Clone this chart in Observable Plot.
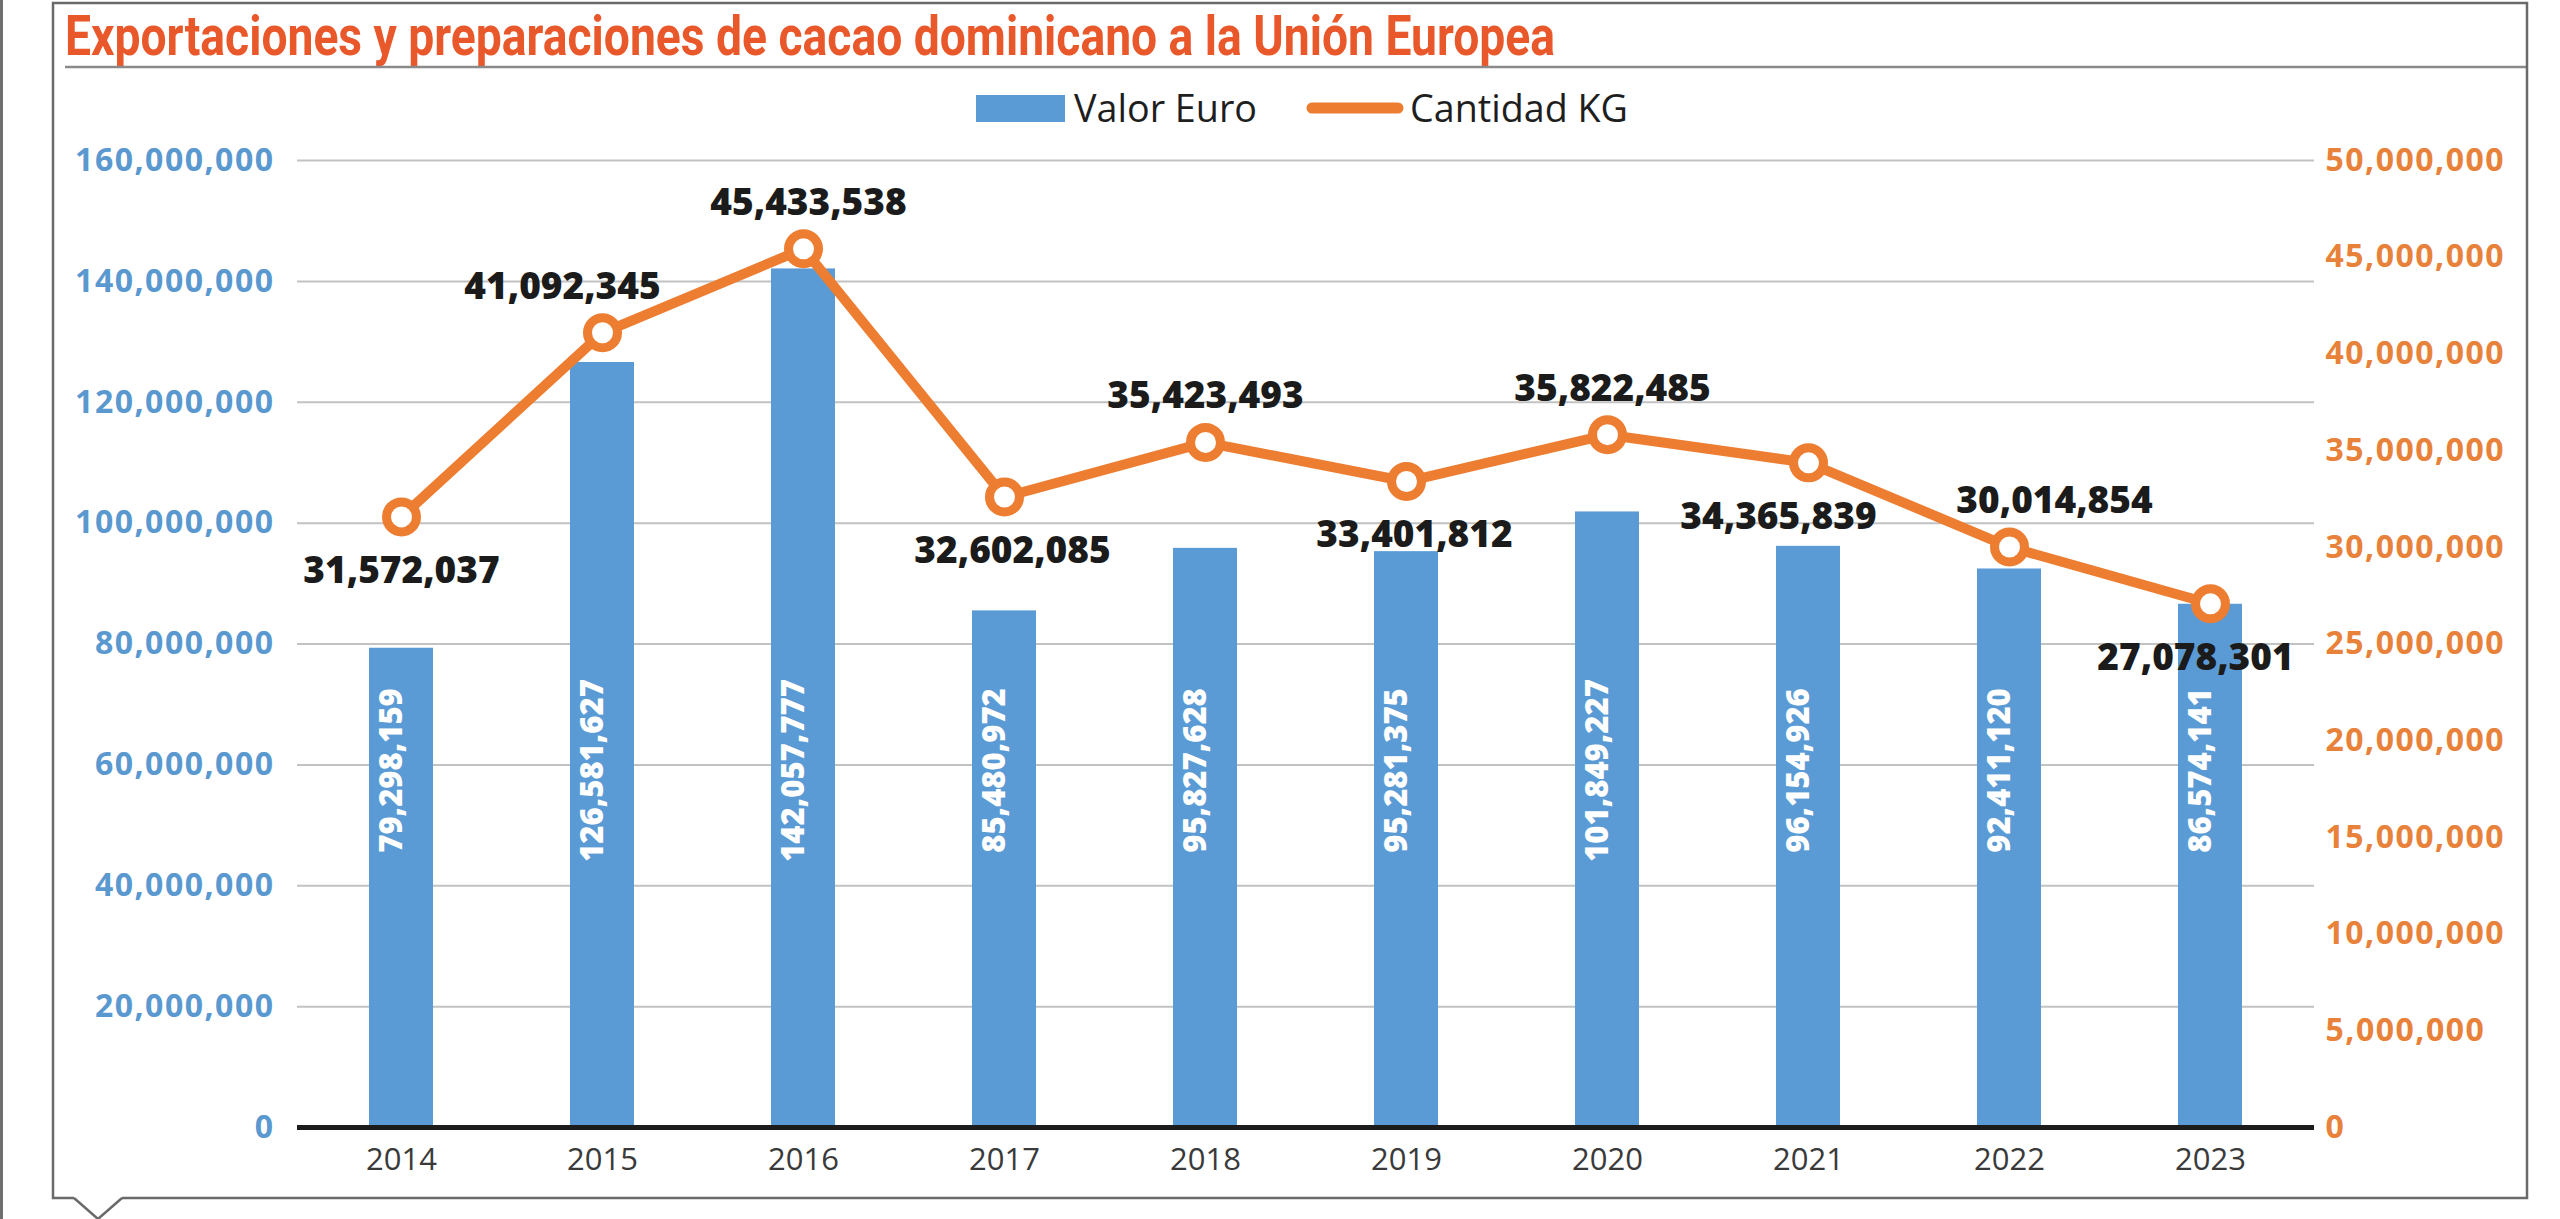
<!DOCTYPE html>
<html>
<head>
<meta charset="utf-8">
<script src="https://cdn.jsdelivr.net/npm/d3@7"></script>
<script src="https://cdn.jsdelivr.net/npm/@observablehq/plot@0.6"></script>
<style>
  html, body { margin: 0; padding: 0; background: #fff; overflow: hidden; }
  #page { position: relative; width: 2560px; height: 1219px; }
  #header { position: absolute; left: 0; top: 0; }
  #chart { position: absolute; left: 0; top: 140px; }
  #overlay { position: absolute; left: 0; top: 0; pointer-events: none; }
</style>
</head>
<body>
<div id="page">
  <svg id="header" width="2560" height="140"></svg>
  <div id="chart"></div>
  <svg id="overlay" width="2560" height="1219"></svg>
</div>
<script>
// ---- data ----
const years = ["2014", "2015", "2016", "2017", "2018", "2019", "2020", "2021", "2022", "2023"];
const valorEuro = [79298159, 126581627, 142057777, 85480972, 95827628, 95281375, 101849227, 96154926, 92411120, 86574141];
const cantidadKG = [31572037, 41092345, 45433538, 32602085, 35423493, 33401812, 35822485, 34365839, 30014854, 27078301];
const leftTicks = [0, 20000000, 40000000, 60000000, 80000000, 100000000, 120000000, 140000000, 160000000];
const rightTicks = [0, 5000000, 10000000, 15000000, 20000000, 25000000, 30000000, 35000000, 40000000, 45000000, 50000000];
const titleText = "Exportaciones y preparaciones de cacao dominicano a la Unión Europea";
const seriesNames = ["Valor Euro", "Cantidad KG"];

// ---- styles ----
const BLUE = "#5B9BD5";
const ORANGE = "#ED7D31";
const LEFT_LABEL = "#5A98D0";
const RIGHT_LABEL = "#E8823A";
const TITLE = "#E9582B";
// label placement for the KG values (style): side and horizontal nudge
const labelStyle = {
  "2014": ["below", 0], "2015": ["above", -40], "2016": ["above", 5], "2017": ["below", 8],
  "2018": ["above", 0], "2019": ["below", 8], "2020": ["above", 5], "2021": ["below", -30],
  "2022": ["above", 45], "2023": ["below", -15]
};

const fmt = d3.format(",");
const leftMax = 160000000, rightMax = 50000000;
const k = leftMax / rightMax;

const data = years.map((year, i) => ({ year, euro: valorEuro[i], kg: cantidadKG[i] }));

// ---- header: title + legend ----
const header = d3.select("#header");
header.append("text")
  .attr("x", 65).attr("y", 55)
  .attr("font-family", "Roboto, 'Liberation Sans', sans-serif")
  .attr("font-weight", 700).attr("font-size", 55)
  .attr("fill", TITLE)
  .attr("textLength", 1490).attr("lengthAdjust", "spacingAndGlyphs")
  .text(titleText);
header.append("line")
  .attr("x1", 65).attr("x2", 2526).attr("y1", 67).attr("y2", 67)
  .attr("stroke", "#8a8a8a").attr("stroke-width", 2.5);
header.append("rect")
  .attr("x", 976).attr("y", 95).attr("width", 89).attr("height", 27).attr("fill", BLUE);
header.append("text")
  .attr("x", 1074).attr("y", 122)
  .attr("font-family", "'Open Sans', sans-serif").attr("font-size", 38).attr("fill", "#1e1e1e")
  .attr("textLength", 183).attr("lengthAdjust", "spacingAndGlyphs")
  .text(seriesNames[0]);
header.append("line")
  .attr("x1", 1312).attr("x2", 1398).attr("y1", 108).attr("y2", 108)
  .attr("stroke", ORANGE).attr("stroke-width", 11).attr("stroke-linecap", "round");
header.append("text")
  .attr("x", 1410).attr("y", 122)
  .attr("font-family", "'Open Sans', sans-serif").attr("font-size", 38).attr("fill", "#1e1e1e")
  .attr("textLength", 218).attr("lengthAdjust", "spacingAndGlyphs")
  .text(seriesNames[1]);

// ---- chart ----
const labelMarks = years.map(y => {
  const [side, nudge] = labelStyle[y];
  return Plot.text(data.filter(d => d.year === y), {
    x: "year", y: d => d.kg * k, text: d => fmt(d.kg),
    dy: side === "above" ? -46 : 54, dx: nudge,
    fontSize: 37, fontWeight: 800, fill: "#1b1b1b"
  });
});

const chart = Plot.plot({
  width: 2560,
  height: 1079,
  marginLeft: 297,
  marginRight: 246,
  marginTop: 20,
  marginBottom: 92,
  style: { fontFamily: "'Open Sans', sans-serif", background: "transparent", overflow: "visible" },
  x: { type: "band", domain: years, paddingInner: 0.683, paddingOuter: 0.3415, axis: null },
  y: { domain: [0, leftMax], axis: null },
  marks: [
    Plot.gridY(leftTicks.filter(t => t > 0), { stroke: "#c2c2c2", strokeOpacity: 1, strokeWidth: 2 }),
    Plot.barY(data, { x: "year", y: "euro", fill: BLUE }),
    Plot.ruleY([0], { stroke: "#1c1c1c", strokeWidth: 5 }),
    Plot.axisX({ tickSize: 0, tickPadding: 20, fontSize: 31, fill: "#3a3a3a", label: null }),
    Plot.axisY(leftTicks, {
      anchor: "left", tickSize: 0, tickPadding: 23, fontSize: 32, fontWeight: 700,
      fill: LEFT_LABEL, tickFormat: fmt, label: null
    }),
    Plot.axisY(rightTicks.map(v => v * k), {
      anchor: "right", tickSize: 0, tickPadding: 11, fontSize: 32, fontWeight: 700,
      fill: RIGHT_LABEL, tickFormat: v => fmt(Math.round(v / k)), label: null
    }),
    Plot.text(data, {
      x: "year", text: d => fmt(d.euro), rotate: -90,
      frameAnchor: "bottom", dy: -357,
      fontSize: 31, fontWeight: 800, fill: "#ffffff"
    }),
    Plot.line(data, {
      x: "year", y: d => d.kg * k, stroke: ORANGE, strokeWidth: 10,
      strokeLinejoin: "round", strokeLinecap: "round"
    }),
    Plot.dot(data, {
      x: "year", y: d => d.kg * k, r: 15, stroke: ORANGE, strokeWidth: 9, fill: "#ffffff"
    }),
    ...labelMarks
  ]
});
document.getElementById("chart").appendChild(chart);

// letter spacing for the axis number labels
d3.select(chart).selectAll('g[aria-label="y-axis tick label"] text').style("letter-spacing", "1.5px");

// ---- frame overlay ----
const ov = d3.select("#overlay");
ov.append("line").attr("x1", 1.5).attr("x2", 1.5).attr("y1", 0).attr("y2", 1219)
  .attr("stroke", "#6f6f6f").attr("stroke-width", 3);
ov.append("path")
  .attr("d", "M74,1198 L53,1198 L53,3 L2527,3 L2527,1198 L122,1198")
  .attr("fill", "none").attr("stroke", "#6a6a6a").attr("stroke-width", 2.5);
ov.append("path")
  .attr("d", "M74,1198 L98,1219 L122,1198")
  .attr("fill", "none").attr("stroke", "#6a6a6a").attr("stroke-width", 2.5);
</script>
</body>
</html>
